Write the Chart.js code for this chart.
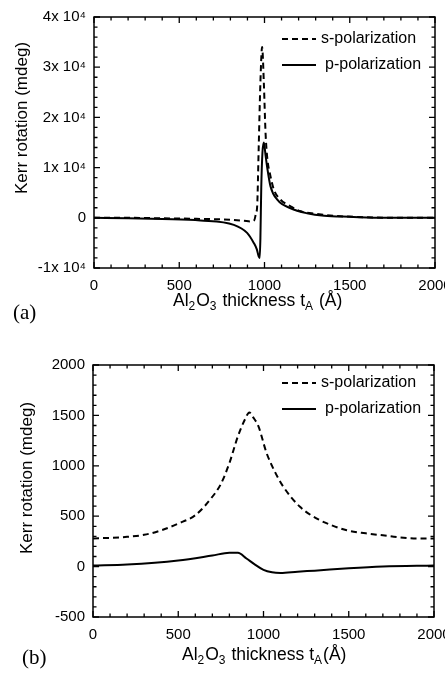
<!DOCTYPE html>
<html>
<head>
<meta charset="utf-8">
<script src="https://cdn.jsdelivr.net/npm/chart.js@4"></script>
<style>
  html, body { margin: 0; padding: 0; background: #fff; }
  body { width: 445px; height: 677px; position: relative; overflow: hidden; }
  .panel { position: absolute; left: 0; width: 445px; }
</style>
</head>
<body>
<div class="panel" style="top:0;height:335px"><canvas id="chartA"></canvas></div>
<div class="panel" style="top:335px;height:342px"><canvas id="chartB"></canvas></div>
<script>
// panel (a): Kerr rotation vs Al2O3 thickness, wide range
const sThickA = [0, 200, 400, 600, 800, 880, 918, 940, 950, 957, 966, 976, 986, 996, 1006, 1016, 1035, 1055, 1094, 1153, 1212, 1300, 1408, 1600, 1800, 2000];
const sKerrA = [0, 0, -100, -200, -400, -600, -730, -500, 900, 2300, 14000, 27000, 34000, 27000, 17000, 12000, 8300, 5600, 3600, 2300, 1300, 800, 400, 100, 0, 0];
const pThickA = [0, 200, 400, 624, 820, 898, 937, 955, 966, 972, 976, 981, 988, 996, 1006, 1016, 1035, 1075, 1153, 1250, 1350, 1500, 1700, 2000];
const pKerrA = [0, -100, -250, -530, -1400, -3000, -5000, -6300, -7700, -8000, -4000, 6000, 13000, 15000, 12500, 10000, 6300, 3600, 1900, 900, 400, 200, 0, 0];

// panel (b)
const sThickB = [0, 100, 200, 300, 400, 500, 600, 700, 750, 800, 850, 891, 917, 940, 970, 1018, 1070, 1116, 1214, 1331, 1400, 1488, 1600, 1700, 1800, 1900, 2000];
const sKerrB = [280, 285, 295, 315, 360, 427, 510, 693, 820, 1027, 1293, 1460, 1530, 1480, 1393, 1127, 930, 793, 593, 460, 410, 360, 330, 310, 290, 280, 280];
const pThickB = [0, 200, 500, 700, 800, 850, 900, 950, 1000, 1050, 1100, 1200, 1300, 1500, 1700, 2000];
const pKerrB = [10, 20, 60, 110, 137, 137, 80, 20, -33, -57, -63, -50, -40, -17, 0, 10];

const seriesNames = ["s-polarization", "p-polarization"];
const yTitle = "Kerr rotation (mdeg)";

const sansFont = "'Liberation Sans', Arial, Helvetica, sans-serif";
const serifFont = "'Liberation Serif', 'Times New Roman', serif";

function toPoints(xs, ys) {
  return xs.map((x, i) => ({ x: x, y: ys[i] }));
}

// frame, inward ticks, titles, legend and panel letter
const decor = {
  id: "decor",
  afterDraw(chart, args, opts) {
    const ctx = chart.ctx;
    const a = chart.chartArea;
    const xs = chart.scales.x, ys = chart.scales.y;
    ctx.save();
    ctx.strokeStyle = "#000";
    ctx.lineWidth = 1.5;
    ctx.strokeRect(a.left, a.top, a.right - a.left, a.bottom - a.top);

    ctx.lineWidth = 1.3;
    ctx.beginPath();
    for (let v = xs.min; v <= xs.max + 1e-6; v += opts.minorX) {
      const px = xs.getPixelForValue(v);
      const len = Math.abs(v % opts.majorX) < 1e-6 ? 6 : 3.5;
      ctx.moveTo(px, a.bottom); ctx.lineTo(px, a.bottom - len);
      ctx.moveTo(px, a.top); ctx.lineTo(px, a.top + len);
    }
    for (let v = ys.min; v <= ys.max + 1e-6; v += opts.minorY) {
      const py = ys.getPixelForValue(v);
      const len = Math.abs(v % opts.majorY) < 1e-6 ? 6 : 3.5;
      ctx.moveTo(a.left, py); ctx.lineTo(a.left + len, py);
      ctx.moveTo(a.right, py); ctx.lineTo(a.right - len, py);
    }
    ctx.stroke();

    // y title
    ctx.fillStyle = "#000";
    ctx.save();
    ctx.translate(opts.yTitleX, opts.yTitleY);
    ctx.rotate(-Math.PI / 2);
    ctx.font = "17px " + sansFont;
    ctx.textAlign = "center";
    ctx.textBaseline = "middle";
    ctx.fillText(yTitle, 0, 0);
    ctx.restore();

    // x title with subscripts
    let x = opts.xTitleX;
    ctx.textBaseline = "middle";
    ctx.textAlign = "left";
    opts.xTitle.forEach(part => {
      ctx.font = (part.sub ? "12px " : "17.5px ") + sansFont;
      ctx.fillText(part.t, x, opts.xTitleY + (part.sub ? 6 : 0));
      x += ctx.measureText(part.t).width + (part.sub ? 1 : 0);
    });

    // legend
    ctx.font = "16px " + sansFont;
    chart.data.datasets.forEach((ds, i) => {
      const ly = a.top + opts.legendTop + i * 26;
      ctx.save();
      ctx.strokeStyle = ds.borderColor;
      ctx.lineWidth = ds.borderWidth;
      ctx.setLineDash(ds.borderDash || []);
      ctx.beginPath();
      ctx.moveTo(opts.legendX, ly);
      ctx.lineTo(opts.legendX + 34, ly);
      ctx.stroke();
      ctx.restore();
      ctx.fillText(ds.label, opts.legendX + 39 + i * 4, ly);
    });

    // panel letter
    ctx.font = "21px " + serifFont;
    ctx.fillText(opts.panel, opts.panelX, opts.panelY);
    ctx.restore();
  }
};

function makeChart(id, cfg) {
  return new Chart(document.getElementById(id), {
    type: "scatter",
    data: {
      datasets: [
        {
          label: seriesNames[0],
          data: toPoints(cfg.sx, cfg.sy),
          borderColor: "#000",
          borderWidth: 2,
          borderDash: [6, 4],
        },
        {
          label: seriesNames[1],
          data: toPoints(cfg.px, cfg.py),
          borderColor: "#000",
          borderWidth: 2,
        },
      ],
    },
    options: {
      responsive: true,
      maintainAspectRatio: false,
      animation: false,
      showLine: true,
      elements: {
        point: { radius: 0 },
        line: { cubicInterpolationMode: "monotone", fill: false },
      },
      layout: { padding: cfg.padding },
      plugins: {
        legend: { display: false },
        tooltip: { enabled: false },
        decor: cfg.decor,
      },
      scales: {
        x: {
          type: "linear",
          min: 0,
          max: 2000,
          grid: { display: false, drawTicks: false },
          border: { display: false },
          ticks: {
            stepSize: 500,
            padding: 9,
            color: "#000",
            font: { family: sansFont, size: 15 },
            callback: v => String(v),
          },
          afterFit(s) { s.height = cfg.xHeight; s.paddingLeft = 0; s.paddingRight = 0; },
        },
        y: {
          min: cfg.yMin,
          max: cfg.yMax,
          grid: { display: false, drawTicks: false },
          border: { display: false },
          ticks: {
            stepSize: cfg.yStep,
            padding: 8,
            color: "#000",
            font: { family: sansFont, size: 15 },
            callback: cfg.yLabel,
          },
          afterFit(s) { s.width = cfg.yWidth; s.paddingTop = 0; s.paddingBottom = 0; },
        },
      },
    },
    plugins: [decor],
  });
}

makeChart("chartA", {
  sx: sThickA, sy: sKerrA, px: pThickA, py: pKerrA,
  yMin: -10000, yMax: 40000, yStep: 10000,
  yLabel: v => (v === 0 ? "0" : (v / 10000) + "x 10\u2074"),
  padding: { left: 0, top: 17, right: 10, bottom: 0 },
  yWidth: 94, xHeight: 67,
  decor: {
    minorX: 100, majorX: 500, minorY: 2000, majorY: 10000,
    yTitleX: 22, yTitleY: 118,
    xTitleX: 173, xTitleY: 301,
    xTitle: [{ t: "Al" }, { t: "2", sub: true }, { t: "O" }, { t: "3", sub: true }, { t: " thickness t" }, { t: "A", sub: true }, { t: " (\u00c5)" }],
    legendX: 282, legendTop: 22,
    panel: "(a)", panelX: 13, panelY: 313,
  },
});

makeChart("chartB", {
  sx: sThickB, sy: sKerrB, px: pThickB, py: pKerrB,
  yMin: -500, yMax: 2000, yStep: 500,
  yLabel: v => String(v),
  padding: { left: 0, top: 30, right: 11, bottom: 0 },
  yWidth: 93, xHeight: 60,
  decor: {
    minorX: 100, majorX: 500, minorY: 100, majorY: 500,
    yTitleX: 27, yTitleY: 143,
    xTitleX: 182, xTitleY: 320,
    xTitle: [{ t: "Al" }, { t: "2", sub: true }, { t: "O" }, { t: "3", sub: true }, { t: " thickness t" }, { t: "A", sub: true }, { t: "(\u00c5)" }],
    legendX: 282, legendTop: 18,
    panel: "(b)", panelX: 22, panelY: 323,
  },
});
</script>
</body>
</html>
